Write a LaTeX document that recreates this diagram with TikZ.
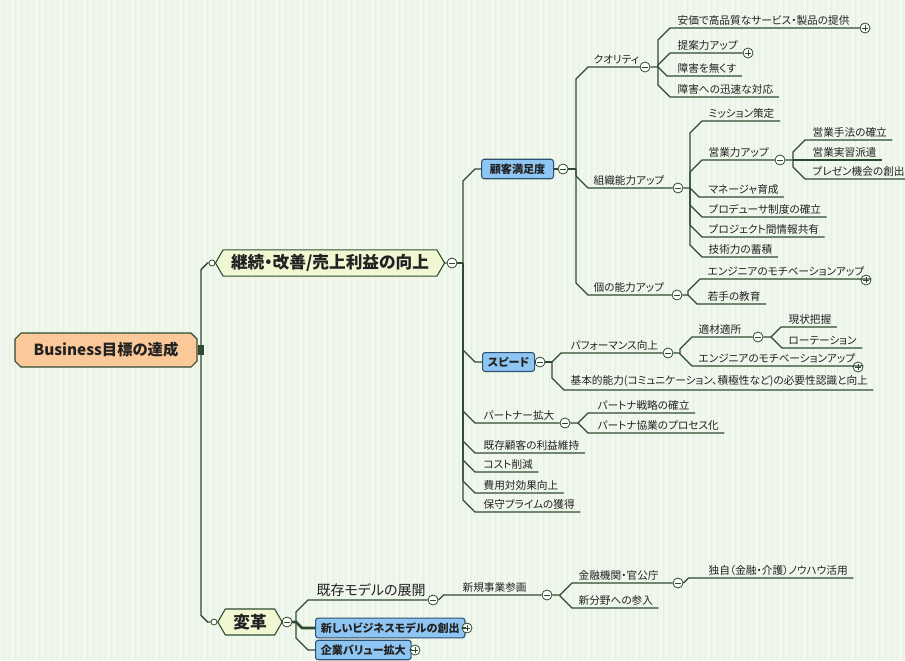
\documentclass[tikz,border=0pt]{standalone}
\usepackage{fontspec}
\setmainfont[RawFeature=+palt]{Noto Sans CJK JP}
\usetikzlibrary{calc,shapes.symbols}
\definecolor{bg}{HTML}{F0F7EC}
\definecolor{stripe}{HTML}{E6F0E1}
\definecolor{ln}{HTML}{2F4B2F}
\definecolor{txt}{HTML}{222222}
\definecolor{peach}{HTML}{FBC89A}
\definecolor{lime}{HTML}{EFF8D2}
\definecolor{sky}{HTML}{8EC5F2}
\definecolor{skyedge}{HTML}{2D4F70}
\tikzset{
  branch/.style={draw=ln, line width=0.9pt},
  fork/.style={to path={let \p1=(\tikztostart), \p2=(\tikztotarget),
      \n1={sign(\y2-\y1)}, \n2={min(abs(\y2-\y1),#1)} in
      -- (\x1,\y2-\n1*\n2) -- (\x1+\n2,\y2) -- (\tikztotarget)}},
  fork/.default=9,
  leaf/.style={anchor=south west, inner xsep=4pt, inner ysep=2pt, text=txt,
    font=\fontsize{8}{9.6}\selectfont},
  rootbox/.style={text=txt, font=\bfseries\fontsize{11.5}{13}\selectfont,
    minimum width=137pt, minimum height=25.5pt, inner sep=0pt},
  topic/.style={signal, signal to=west and east, signal pointer angle=120, draw=ln,
    line width=0.8pt, fill=lime, text=txt, font=\bfseries\fontsize{12.5}{14}\selectfont,
    minimum height=19.5pt, inner xsep=6pt},
  sub/.style={rounded corners=2pt, draw=skyedge, line width=0.8pt, fill=sky, text=txt,
    font=\bfseries\fontsize{8.3}{10}\selectfont, minimum height=14pt, inner xsep=4pt,
    anchor=west},
  knob/.style={circle, draw=ln, fill=white, line width=0.6pt, minimum size=7.5pt, inner sep=0pt},
  kminus/.style={knob, path picture={\draw[ln, line width=0.6pt]
    ([xshift=-2.2pt]path picture bounding box.center) -- ([xshift=2.2pt]path picture bounding box.center);}},
  kplus/.style={knob, path picture={\draw[ln, line width=0.6pt]
    ([xshift=-2.2pt]path picture bounding box.center) -- ([xshift=2.2pt]path picture bounding box.center)
    ([yshift=-2.2pt]path picture bounding box.center) -- ([yshift=2.2pt]path picture bounding box.center);}},
  joint/.style={circle, draw=ln, fill=white, line width=0.6pt, minimum size=4.5pt, inner sep=0pt},
}
\begin{document}
\begin{tikzpicture}[x=0.75pt, y=-0.75pt]
\fill[bg] (0,0) rectangle (905,660);
\useasboundingbox (0,0) rectangle (905,660);
\foreach \x in {3,9,...,903} \draw[stripe, line width=0.4pt] (\x,0) -- (\x,660);

% root and the two main topics
\filldraw[draw=ln, fill=peach, line width=0.8pt] (21,333) -- (191,333) -- (197,339) -- (197,361)
  -- (191,367) -- (21,367) -- (15,361) -- (15,339) -- cycle;
\node[rootbox] (root) at (106,350) {Business目標の達成};
\node[fill=ln, minimum width=4pt, minimum height=7pt, inner sep=0pt] (jn) at (201,350) {};
\node[joint] (jA) at (212,263) {};
\node[joint] (jB) at (214,622) {};
\draw[branch, line width=1.1pt] (jn.center) to[fork=5] (jA.west);
\draw[branch, line width=1.1pt] (jn.center) to[fork=5] (jB.west);
\node[topic, minimum width=169pt] (A) at (330,263) {継続・改善/売上利益の向上};
\node[topic, minimum width=40.5pt] (B) at (250,622) {変革};
\draw[branch] (jA) -- (A);
\draw[branch] (jB) -- (B);
\node[kminus] (cA) at (452,263) {};
\node[kminus] (cB) at (287,622) {};
\draw[branch] (A) -- (cA);
\draw[branch] (B) -- (cB);
\coordinate (tA) at (463,263);
\draw[branch] (cA) -- (tA);

% 顧客満足度
\node[sub, minimum width=54pt] (K) at (481,169) {顧客満足度};
\node[kminus] (cK) at (563,169) {};
\coordinate (tK) at (576,169);
\draw[branch] (tA) to[fork] (K.west);
\draw[branch] (K) -- (cK) -- (tK);

\node[leaf] (Q) at (588,67) {クオリティ};
\node[kminus] (cQ) at (645,67) {};
\coordinate (tQ) at (658,67);
\draw[branch] (tK) to[fork] (Q.south west) -- (cQ) -- (tQ);
\node[leaf] (q1) at (672,28) {安価で高品質なサービス・製品の提供};
\node[kplus] (cq1) at (865,28) {};
\node[leaf] (q2) at (672,53) {提案力アップ};
\node[kplus] (cq2) at (748,53) {};
\node[leaf] (q3) at (672,76) {障害を無くす};
\node[leaf] (q4) at (672,97) {障害への迅速な対応};
\draw[branch] (tQ) to[fork] (q1.south west) -- (cq1);
\draw[branch] (tQ) to[fork] (q2.south west) -- (cq2);
\draw[branch] (tQ) to[fork] (q3.south west) -- (q3.south east);
\draw[branch] (tQ) to[fork] (q4.south west) -- (q4.south east);

\node[leaf] (O) at (588,188) {組織能力アップ};
\node[kminus] (cO) at (678,188) {};
\coordinate (tO) at (690,188);
\draw[branch] (tK) to[fork] (O.south west) -- (cO) -- (tO);
\node[leaf] (o1) at (703,121) {ミッション策定};
\node[leaf] (o2) at (703,160) {営業力アップ};
\node[kminus] (cE) at (780,160) {};
\coordinate (tE) at (793,160);
\node[leaf] (o3) at (703,197) {マネージャ育成};
\node[leaf] (o4) at (703,217) {プロデューサ制度の確立};
\node[leaf] (o5) at (703,237) {プロジェクト間情報共有};
\node[leaf] (o6) at (703,257) {技術力の蓄積};
\draw[branch] (tO) to[fork] (o1.south west) -- (o1.south east);
\draw[branch] (tO) to[fork] (o2.south west) -- (cE) -- (tE);
\foreach \nd in {o3,o4,o5,o6}
  \draw[branch] (tO) to[fork] (\nd.south west) -- (\nd.south east);
\node[leaf] (e1) at (807,140) {営業手法の確立};
\node[leaf] (e2) at (807,160) {営業実習派遣};
\node[leaf] (e3) at (807,179) {プレゼン機会の創出};
\foreach \nd in {e1,e2,e3}
  \draw[branch] (tE) to[fork] (\nd.south west) -- (\nd.south east);

\node[leaf] (I) at (588,295) {個の能力アップ};
\node[kminus] (cI) at (677,295) {};
\coordinate (tI) at (688,295);
\draw[branch] (tK) to[fork] (I.south west) -- (cI) -- (tI);
\node[leaf] (i1) at (702,279) {エンジニアのモチベーションアップ};
\node[kplus] (ci1) at (866,280) {};
\node[leaf] (i2) at (702,304) {若手の教育};
\draw[branch] (tI) to[fork] (i1.south west) -- (i1.south east) -- (ci1);
\draw[branch] (tI) to[fork] (i2.south west) -- (i2.south east);

% スピード
\node[sub, minimum width=37.5pt] (S) at (482,362) {スピード};
\node[kminus] (cS) at (540,362) {};
\coordinate (tS) at (552,362);
\draw[branch] (tA) to[fork] (S.west);
\draw[branch] (S) -- (cS) -- (tS);
\node[leaf] (s1) at (565,353) {パフォーマンス向上};
\node[kminus] (cP) at (668,353) {};
\coordinate (tP) at (680,353);
\node[leaf] (s2) at (565,390) {基本的能力(コミュニケーション、積極性など)の必要性認識と向上};
\draw[branch] (tS) to[fork] (s1.south west) -- (cP) -- (tP);
\draw[branch] (tS) to[fork] (s2.south west) -- (s2.south east);
\node[leaf] (p1) at (693,337) {適材適所};
\node[kminus] (cT) at (758,337) {};
\coordinate (tT) at (771,337);
\node[leaf] (p2) at (693,366) {エンジニアのモチベーションアップ};
\node[kplus] (cp2) at (858,367) {};
\draw[branch] (tP) to[fork] (p1.south west) -- (cT) -- (tT);
\draw[branch] (tP) to[fork] (p2.south west) -- (p2.south east) -- (cp2);
\node[leaf] (t1) at (783,327) {現状把握};
\node[leaf] (t2) at (783,348) {ローテーション};
\draw[branch] (tT) to[fork] (t1.south west) -- (t1.south east);
\draw[branch] (tT) to[fork] (t2.south west) -- (t2.south east);

% パートナー拡大 and the rest
\node[leaf] (a1) at (478,423) {パートナー拡大};
\node[kminus] (cR) at (565,423) {};
\coordinate (tR) at (578,423);
\draw[branch] (tA) to[fork] (a1.south west) -- (cR) -- (tR);
\node[leaf] (r1) at (592,413) {パートナ戦略の確立};
\node[leaf] (r2) at (592,433) {パートナ協業のプロセス化};
\draw[branch] (tR) to[fork] (r1.south west) -- (r1.south east);
\draw[branch] (tR) to[fork] (r2.south west) -- (r2.south east);
\node[leaf] (a2) at (478,453) {既存顧客の利益維持};
\node[leaf] (a3) at (478,472) {コスト削減};
\node[leaf] (a4) at (478,493) {費用対効果向上};
\node[leaf] (a5) at (478,512) {保守プライムの獲得};
\foreach \nd in {a2,a3,a4,a5}
  \draw[branch] (tA) to[fork] (\nd.south west) -- (\nd.south east);

% 変革
\coordinate (tB) at (296,622);
\draw[branch] (cB) -- (tB);
\node[leaf, font=\fontsize{10.5}{12}\selectfont] (b1) at (311,600) {既存モデルの展開};
\node[kminus] (cM) at (433,600) {};
\draw[branch] (tB) to[fork] (b1.south west) -- (cM);
\node[sub, minimum width=106.5pt] (b2) at (315,628) {新しいビジネスモデルの創出};
\node[kplus] (cb2) at (467,628) {};
\draw[branch, line width=2pt] (cB) -- (tB) to[fork] (b2.west);
\draw[branch] (b2) -- (cb2);
\node[sub, minimum width=67pt] (b3) at (315,650) {企業バリュー拡大};
\node[kplus] (cb3) at (415,650) {};
\draw[branch] (tB) to[fork] (b3.west);
\draw[branch] (b3) -- (cb3);

\node[leaf] (N) at (457,595) {新規事業参画};
\node[kminus] (cN) at (547,595) {};
\coordinate (tN) at (560,595);
\draw[branch] (cM.east) to[fork] (N.south west) -- (cN) -- (tN);
\node[leaf] (n1) at (573,583) {金融機関・官公庁};
\node[kminus] (cF) at (678,583) {};
\node[leaf] (n2) at (573,608) {新分野への参入};
\draw[branch] (tN) to[fork] (n1.south west) -- (cF);
\draw[branch] (tN) to[fork] (n2.south west) -- (n2.south east);
\node[leaf] (f1) at (703,578) {独自（金融・介護）ノウハウ活用};
\draw[branch] (cF.east) to[fork] (f1.south west) -- (f1.south east);
\end{tikzpicture}
\end{document}
